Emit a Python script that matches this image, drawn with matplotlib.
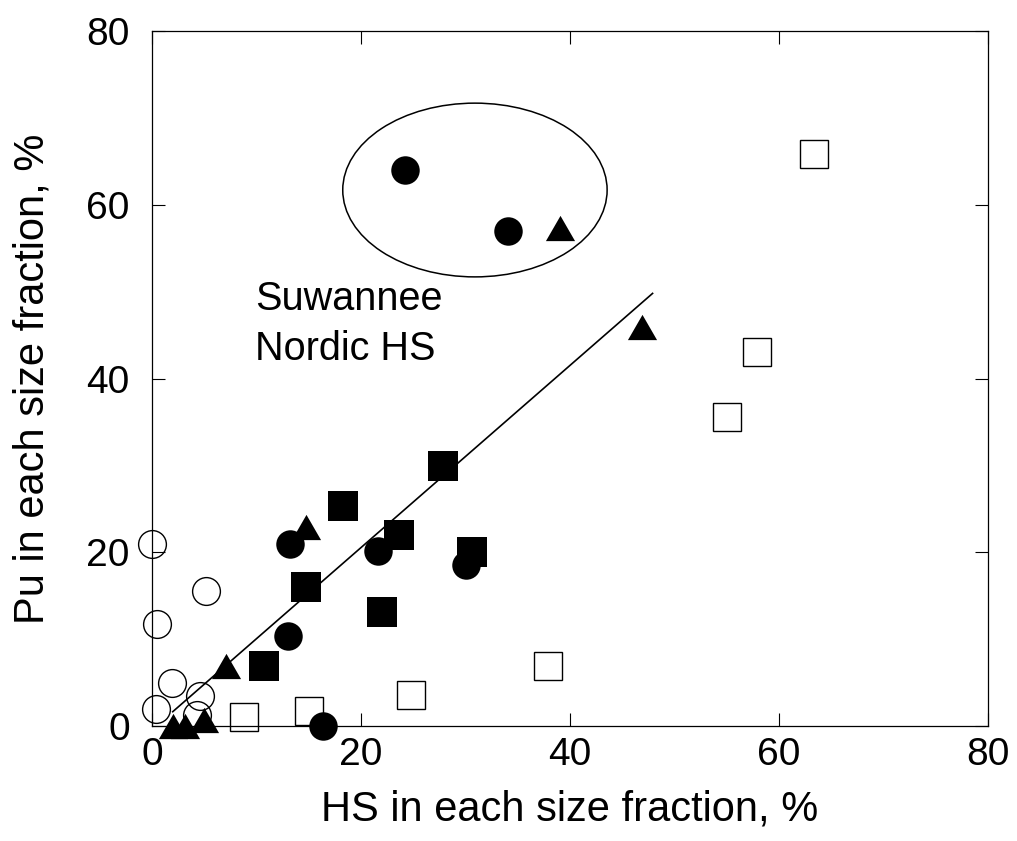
import matplotlib
matplotlib.use("Agg")
import matplotlib.pyplot as plt
from matplotlib.patches import Ellipse

plt.rcParams['font.family'] = ['Liberation Sans', 'DejaVu Sans']

# filled circles
fc_x = [24.2, 34.1, 13.2, 13.0, 21.6, 30.0, 16.4]
fc_y = [64.0, 57.0, 21.0, 10.4, 20.1, 18.5, 0.0]

# filled triangles
ft_x = [39.0, 46.9, 14.7, 7.05, 2.0, 3.2, 5.0]
ft_y = [57.3, 45.9, 22.9, 6.9, 0.0, 0.0, 0.7]

# filled squares
fs_x = [27.8, 18.3, 23.6, 30.6, 14.7, 22.0, 10.7]
fs_y = [29.9, 25.3, 22.0, 20.0, 16.0, 13.1, 6.9]

# open squares
os_x = [63.3, 57.9, 55.0, 37.9, 24.8, 15.0, 8.8]
os_y = [65.9, 43.0, 35.6, 6.9, 3.6, 1.7, 1.0]

# open circles
oc_x = [0.0, 5.2, 0.45, 1.95, 4.6, 0.35, 4.3]
oc_y = [21.0, 15.5, 11.7, 5.0, 3.4, 2.0, 1.3]

# regression line ends
fit_x = [1.98, 47.9]
fit_y = [1.65, 49.8]

ticks = [0, 20, 40, 60, 80]

fig = plt.figure(figsize=(10.17, 8.41), dpi=100)
ax = fig.add_axes([0.1495, 0.1367, 0.8220, 0.8264])

tri = [(-1, -0.866), (1, -0.866), (0, 0.866)]

ax.plot(oc_x, oc_y, 'o', ms=20, mfc='none', mec='black', mew=1.0, clip_on=False, zorder=3)
ax.plot(os_x, os_y, 's', ms=20, mfc='none', mec='black', mew=1.0, clip_on=False, zorder=3)
ax.plot(fit_x, fit_y, '-', color='black', lw=1.2, zorder=2)
ax.plot(fs_x, fs_y, 's', ms=21, mfc='black', mec='black', mew=0, clip_on=False, zorder=4)
ax.plot(fc_x, fc_y, 'o', ms=20.5, mfc='black', mec='black', mew=0, clip_on=False, zorder=4)
ax.plot(ft_x, ft_y, linestyle='none', marker=tri, ms=21, mfc='black', mec='black', mew=0,
        clip_on=False, zorder=4)

ell = Ellipse((30.9, 61.7), 25.3, 20.0, fill=False, edgecolor='black', lw=1.1)
ax.add_patch(ell)

ax.text(9.9, 47.9, "Suwannee", fontsize=28.5, va='baseline', ha='left')
ax.text(9.9, 42.1, "Nordic HS", fontsize=28.5, va='baseline', ha='left')

ax.set_xlim(0, 80)
ax.set_ylim(0, 80)
ax.set_xticks(ticks)
ax.set_yticks(ticks)
ax.tick_params(axis='both', direction='in', length=9.5, width=0.8,
               top=True, right=True, labelsize=28)
ax.tick_params(axis='x', pad=8)
ax.tick_params(axis='y', pad=16)
for sp in ax.spines.values():
    sp.set_linewidth(0.9)

ax.set_xlabel("HS in each size fraction, %", fontsize=30)
ax.set_ylabel("Pu in each size fraction, %", fontsize=30)
ax.xaxis.set_label_coords(0.5, -0.0906)
ax.yaxis.set_label_coords(-0.1196, 0.5)

fig.savefig("out.png", dpi=100)
